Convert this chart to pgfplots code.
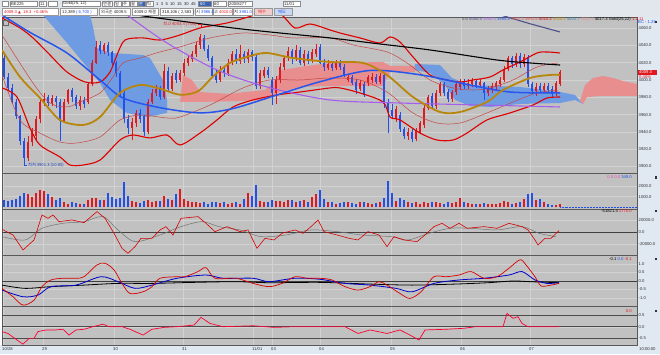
\documentclass[border=0pt]{standalone}
\usepackage{pgfplots}
\pgfplotsset{compat=1.18}
\usepackage{pgfplotstable}
\usepackage{fontspec}
\setmainfont{Liberation Sans}
\newfontfamily\kr{Noto Sans CJK KR}
\newfontfamily\djv{DejaVu Sans}
\definecolor{bgc}{RGB}{193,193,193}
\definecolor{gridc}{RGB}{210,210,210}
\definecolor{stripc}{RGB}{224,232,242}
\definecolor{toolc}{RGB}{226,231,238}
\definecolor{bbred}{RGB}{222,0,0}
\definecolor{thinred}{RGB}{196,70,70}
\definecolor{goldc}{RGB}{184,134,11}
\definecolor{mablue}{RGB}{40,85,235}
\definecolor{purp}{RGB}{165,95,235}
\definecolor{navyc}{RGB}{80,80,140}
\definecolor{cloudb}{RGB}{110,155,225}
\definecolor{cloudp}{RGB}{232,142,142}
\definecolor{upc}{RGB}{225,25,30}
\definecolor{dnc}{RGB}{35,80,235}
\definecolor{btnp}{RGB}{240,205,205}
\definecolor{btnb}{RGB}{200,215,242}
\definecolor{btnsel}{RGB}{60,100,180}
\newcommand\tf{\fontsize{4.2}{5}\selectfont}

\pgfplotstableread{
x o h l c vol
4 4025.4 4028.9 4001.2 4003.5 700
8 4003.5 4008 3988 3991 550
12 3991 3995 3972 3975 650
16 3975 3978 3955 3958 800
20 3958 3960 3925 3930 1100
24 3930 3933 3901.3 3910 1300
28 3910 3935 3906 3928 1200
32 3928 3945 3924 3940 950
36 3935 3958 3930 3955 1350
40 3955 3978 3950 3975 1600
44 3975 3985 3970 3978 1500
48 3980 3983 3970 3973 1200
52 3973 3983 3970 3979 1000
56 3979 3982 3968 3974 700
60 3975 3978 3930 3953 900
64 3953 3978 3950 3975 500
68 3975 3990 3972 3988 350
72 3988 3991 3975 3980 450
76 3980 3983 3966 3970 400
80 3970 3982 3965 3977 300
84 3977 3980 3968 3972 350
88 3975 3998 3972 3995 700
92 3995 4023 3993 4020 850
96 4020 4045 4018 4038 900
100 4040 4045 4030 4033 700
104 4033 4043 4030 4040 650
108 4040 4044 4028 4032 1300
112 4032 4034 4017 4020 1000
116 4020 4022 4004 4008 800
120 4008 4010 3982 3985 900
124 3985 3988 3950 3955 2350
128 3955 3960 3938 3945 1100
132 3945 3956 3931 3952 600
136 3950 3965 3946 3962 450
140 3962 3966 3950 3955 400
144 3958 3960 3935 3940 550
148 3940 3978 3937 3975 650
152 3975 3990 3972 3985 500
156 3985 3994 3982 3990 600
160 3990 3993 3977 3980 550
164 3980 4018 3978 4010 1100
168 4010 4015 3986 3990 800
172 3990 4008 3987 4005 700
176 4008 4012 3997 4000 1200
180 4000 4012 3998 4008 1700
184 4008 4024 4005 4020 800
188 4020 4028 4016 4025 600
192 4024 4034 4021 4030 500
196 4030 4044 4027 4040 450
200 4040 4053.3 4036 4050 400
204 4048 4052 4033 4036 500
208 4036 4040 4022 4025 350
212 4025 4028 4002 4005 450
216 4006 4012 3997 4000 500
220 4000 4016 3998 4012 400
224 4012 4016 4004 4008 450
228 4008 4024 4005 4020 350
232 4020 4034 4017 4030 400
236 4030 4036 4019 4022 450
240 4022 4040 4018 4030 350
244 4030 4033 4020 4024 800
248 4024 4036 4020 4032 1300
252 4032 4035 4022 4026 1100
256 4026 4030 3990 3993 2050
260 3993 4012 3990 4008 600
264 4005 4015 4002 4012 450
268 4012 4015 4002 4006 500
272 4000 4004 3971 3985 700
276 3985 4005 3972 4000 550
280 4000 4020 3997 4015 600
284 4015 4028 4012 4025 500
288 4025 4038 4022 4033 700
292 4033 4036 4018 4025 650
296 4025 4040 4022 4035 500
300 4035 4038 4017 4020 600
304 4020 4035 4016 4030 700
308 4030 4034 4018 4022 500
312 4022 4036 4020 4032 1000
316 4030 4042 4026 4036 1200
320 4038 4042 4018 4020 1600
324 4020 4024 4010 4015 800
328 4014 4023 4011 4019 500
332 4019 4022 4010 4014 450
336 4014 4023 4011 4020 350
340 4020 4023 4012 4015 400
344 4015 4018 4003 4006 450
348 4000 4007 3998 4003 500
352 4003 4006 3994 3997 400
356 3998 4001 3984 3988 350
360 3990 4000 3987 3997 450
364 3995 3998 3980 3983 500
368 3996 4006 3993 4003 400
372 4000 4008 3997 4004 350
376 4004 4007 3995 3998 400
380 3998 4008 3995 4005 500
384 4006 4008 3968 3972 900
388 3975 3978 3938.7 3965 2500
392 3965 3972 3955 3958 1300
396 3955 3970 3952 3966 600
400 3960 3963 3940 3943 900
404 3943 3946 3932 3935 650
408 3935 3944 3931 3940 500
412 3940 3943 3928 3932 400
416 3932 3945 3929 3942 450
420 3940 3953 3937 3950 350
424 3948 3972 3945 3968 500
428 3968 3983 3965 3980 400
432 3982 3985 3966 3970 450
436 3970 3988 3967 3985 500
440 3985 3998 3982 3995 400
444 3995 3998 3982 3985 350
448 3986 3990 3975 3978 450
452 3978 3989 3975 3986 400
456 3986 3998 3983 3995 500
460 3992 4001 3989 3998 850
464 3998 4001 3990 3993 450
468 3993 4001 3990 3997 400
472 3995 4002 3992 3999 350
476 3999 4001 3991 3994 300
480 3994 4001 3991 3998 350
484 3996 3998 3977 3985 400
488 3985 3993 3982 3990 300
492 3988 3996 3985 3993 350
496 3992 3999 3989 3996 300
500 3995 4003 3992 4000 400
504 4000 4016 3998 4013 550
508 4013 4028 4010 4025 500
512 4025 4028 4014 4018 350
516 4018 4031 4015 4028 400
520 4028 4031 4014 4018 450
524 4018 4030 4015 4027 800
528 4026 4029 3992 3995 1200
532 3995 3998 3984 3987 1350
536 3987 3996 3982 3992 700
540 3993 3996 3985 3988 800
544 3988 3996 3985 3993 500
548 3993 3996 3985 3988 300
552 3990 3993 3980 3984 200
556 3985 3999 3982 3996 250
560 3995 4012 3993 4009.3 300
}\candles

\pgfplotsset{
 panel/.style={
  scale only axis, width=635bp, xmin=2, xmax=637,
  axis background/.style={fill=bgc},
  axis line style={draw=black!65, line width=0.5bp},
  major tick length=0pt, tick style={draw=none},
  xtick={3,43,114,183,253,272,320,391,461,530},
  xticklabels={},
  grid=major, major grid style={draw=gridc, line width=0.4bp},
  yticklabel pos=right,
  yticklabel style={font=\tf, anchor=west, xshift=1.5bp, inner sep=0pt, text=black!80},
  scaled y ticks=false,
  /pgf/number format/fixed, /pgf/number format/fixed zerofill,
  /pgf/number format/precision=1, /pgf/number format/1000 sep={},
  /pgf/number format/assume math mode=true,
  colormap={ud}{rgb255=(35,80,235) rgb255=(225,25,30)},
  point meta min=0, point meta max=1,
 }
}

\begin{document}
\begin{tikzpicture}[x=1bp,y=1bp]
\useasboundingbox (0,0) rectangle (660,354);
\fill[white] (0,0) rectangle (660,354);
\fill[toolc] (0,337) rectangle (660,354);
\fill[stripc] (637,9) rectangle (660,337);
\fill[stripc] (0,0) rectangle (660,9);

% ---------------- main price panel
\begin{axis}[panel, at={(2bp,337bp)}, anchor=north west, height=156bp,
  ymin=3892.5, ymax=4072.8, ytick={3900,3920,...,4060}]
\addplot[fill=cloudb, draw=none] coordinates {(43,4075.1) (90,4075.1) (93,4061.3) (97,4037) (110,4031.2) (143,4028.9) (150,4025.4) (157,4011.6) (163,4000) (167,3976.9) (167,3961.9) (147,3957.2) (127,3961.9) (110,3976.9) (100,3996.5) (87,4015) (67,4042.8)} --cycle;
\addplot[fill=cloudp, draw=none] coordinates {(180,3974.6) (183,4005.8) (192,4000) (200,3986.1) (230,3983.8) (245,3986.1) (265,3988.4) (275,4000) (282,4011.6) (300,4015) (330,4019.7) (383,4020.8) (390,4016.2) (415,4016.2) (415,4009.2) (390,4009.2) (383,3993.1) (330,3993.1) (300,3991.9) (280,3986.1) (265,3976.9) (240,3975.7) (200,3974.6)} --cycle;
\addplot[fill=cloudb, draw=none] coordinates {(415,4018.5) (440,4017.3) (452,4002.3) (470,3994.2) (520,3991.9) (560,3986.1) (575,3982.7) (580,3975.7) (583,3972.3) (575,3976.9) (560,3973.4) (520,3972.3) (490,3968.8) (470,3970) (455,3976.9) (445,3994.2) (430,4008.1) (415,4011.6)} --cycle;
\addplot[fill=cloudp, draw=none] coordinates {(580,3975.7) (585,3994.2) (593,4002.3) (603,4004.6) (613,4002.3) (623,3998.8) (637,3995.4) (637,3981.5) (600,3981.5) (587,3980.3) (583,3972.3)} --cycle;
\addplot[quiver={u=0, v=\thisrow{h}-\thisrow{l}, colored, every arrow/.append style={line width=0.6bp}},
  point meta={\thisrow{c}>\thisrow{o}}] table[x=x, y=l] {\candles};
\addplot[quiver={u=0, v=\thisrow{c}-\thisrow{o}, colored, every arrow/.append style={line width=2.5bp}},
  point meta={\thisrow{c}>\thisrow{o}}] table[x=x, y=o] {\candles};
\addplot[thinred, line width=0.5bp, smooth] coordinates {(2,4052) (33,3996.5) (50,3973.4) (67,3968.8) (80,3974.6) (100,3985) (113,4003.5) (123,4019.7) (140,4025.4) (160,4032.4) (180,4038.2) (210,4048.6) (243,4054.3) (270,4052) (293,4048.6) (330,4048.6) (353,4040.5) (387,4032.4) (407,4019.7) (430,4000) (453,3990.8) (473,3988.4) (490,3990.8) (513,4000) (537,4015) (558,4019.7)};
\addplot[thinred, line width=0.5bp, smooth] coordinates {(2,4005.8) (20,3953.8) (40,3938.7) (60,3928.3) (77,3927.2) (100,3934.1) (120,3953.8) (140,3959.5) (167,3956.1) (180,3957.2) (210,3971.1) (243,3990.8) (270,4000) (300,4000) (330,4002.3) (360,4000) (387,3986.1) (413,3961.9) (437,3950.3) (460,3950.3) (487,3961.9) (513,3974.6) (537,3985) (558,3988.4)};
\addplot[bbred, line width=1.1bp, smooth] coordinates {(2,4071.7) (20,4060.1) (33,4048.6) (50,4028.9) (67,4009.2) (85,3997.7) (100,3997.7) (110,4009.2) (117,4028.9) (125,4046.2) (143,4048.6) (160,4046.2) (180,4052) (200,4060.1) (227,4065.9) (245,4071.7) (260,4076.3) (280,4076.3) (295,4060.1) (310,4064.7) (330,4057.8) (340,4054.3) (360,4048.6) (380,4042.8) (390,4049.7) (400,4043.9) (413,4026.6) (430,4005.8) (447,4000) (460,3997.7) (473,4000) (490,4003.5) (503,4011.6) (520,4020.8) (537,4031.2) (547,4032.4) (560,4031.2)};
\addplot[bbred, line width=1.1bp, smooth] coordinates {(2,3990.8) (17,3980.3) (30,3944.5) (40,3924.9) (60,3911) (70,3901.7) (83,3901.7) (100,3907.5) (120,3930.6) (133,3936.4) (150,3933) (167,3936.4) (180,3924.9) (200,3938.7) (217,3953.8) (233,3968.8) (253,3976.9) (277,3982.7) (300,3986.1) (330,3990.8) (340,3990.8) (360,3985) (383,3974.6) (390,3957.2) (400,3953.8) (420,3938.7) (437,3930.6) (453,3930.6) (467,3938.7) (487,3953.8) (510,3961.9) (533,3971.1) (547,3979.2) (560,3980.3)};
\addplot[black, line width=1.1bp, smooth] coordinates {(120,4079) (140,4074.5) (180,4068.2) (233,4060.1) (280,4054.3) (330,4048.6) (380,4041.6) (430,4034.7) (497,4023.1) (530,4019.7) (560,4017.3)};
\addplot[navyc, line width=1.1bp] coordinates {(498,4076) (530,4065) (560,4055.5)};
\addplot[purp, line width=1.1bp, smooth] coordinates {(118,4082) (127,4075.1) (167,4042.8) (217,4011.6) (267,3991.9) (330,3976.9) (400,3973.4) (480,3971.1) (560,3968.8)};
\addplot[mablue, line width=1.5bp, smooth] coordinates {(2,4075.1) (30,4055) (67,4031.2) (100,4000) (123,3979.2) (160,3968) (200,3962) (233,3967) (277,3982.7) (320,3998) (370,4011) (420,4006) (470,3994.2) (510,3986.1) (560,3985)};
\addplot[goldc, line width=1.8bp, smooth] coordinates {(2,4034.7) (20,4003.5) (40,3979.2) (60,3953.8) (83,3948) (100,3957.2) (120,3985) (140,3994.2) (160,3990) (180,3983) (198,3987) (213,4004) (230,4019.7) (250,4027.7) (267,4031.2) (293,4025.4) (330,4020.8) (363,4019.7) (387,4005.8) (413,3980.3) (440,3963) (460,3963) (487,3974.6) (503,3988.4) (530,4002.3) (550,4005.8) (560,4005.8)};
\end{axis}

% ---------------- volume
\begin{axis}[panel, at={(2bp,181bp)}, anchor=north west, height=36bp,
  ymin=-159, ymax=3206, ytick={1000,2000}]
\addplot[quiver={u=0, v=\thisrow{vol}, colored, every arrow/.append style={line width=2.4bp}},
  point meta={\thisrow{c}>\thisrow{o}}] table[x=x, y expr=0] {\candles};
\addplot[dnc, densely dotted, line width=0.5bp] coordinates {(560,0) (637,0)};
\end{axis}

% ---------------- oscillator 1
\begin{axis}[panel, at={(2bp,145bp)}, anchor=north west, height=46bp,
  ymin=-38151, ymax=39160, ytick={-20000,0,20000}]
\addplot[black!75, line width=0.6bp] coordinates {(2,0) (637,0)};
\addplot[black!55, line width=0.5bp, smooth] coordinates {(2,-7280) (25,-12880) (42,6720) (63,15120) (84,17920) (103,26320) (118,3920) (135,-15680) (160,-4480) (181,9520) (202,17920) (219,9520) (240,3920) (261,-7280) (286,-4480) (311,3920) (337,1120) (362,-4480) (391,-7280) (408,-12880) (429,-1680) (450,6720) (471,6720) (497,3920) (522,9520) (539,-1680) (556,-7280)};
\addplot[red!85!black, line width=0.6bp] coordinates {(2,5040) (13,-4480) (23,-29680) (34,-12880) (42,29120) (48,23520) (53,29120) (59,17920) (72,20720) (84,16240) (97,34720) (105,23520) (114,-1680) (122,-26880) (128,-35280) (135,-24080) (141,-10080) (152,-10080) (160,3920) (166,9520) (173,-4480) (181,23520) (198,26320) (206,15120) (215,1120) (227,9520) (240,1120) (248,3920) (257,-26880) (265,-10080) (274,-12880) (282,-1680) (295,3920) (303,-1680) (311,9520) (318,20720) (324,1120) (337,-4480) (349,-10080) (358,-12880) (368,1120) (379,-4480) (387,-24080) (394,-7280) (404,-12880) (417,-15680) (425,-4480) (434,9520) (442,15120) (450,6720) (459,15120) (467,6720) (484,9520) (497,6720) (509,15120) (522,9520) (528,3920) (535,-12880) (538,-21280) (545,-10080) (551,-10080) (559,2770)};
\end{axis}

% ---------------- oscillator 2
\begin{axis}[panel, at={(2bp,99bp)}, anchor=north west, height=51.7bp,
  ymin=-1.503, ymax=1.52, ytick={-1,-0.5,0,0.5,1}]
\addplot[black!75, line width=0.6bp] coordinates {(2,0) (637,0)};
\addplot[black, line width=0.8bp, smooth] coordinates {(2,-0.24) (25,-0.43) (51,-0.33) (84,-0.24) (118,-0.14) (152,-0.14) (194,-0.08) (236,-0.04) (269,-0.10) (320,-0.08) (370,-0.18) (412,-0.24) (455,-0.18) (488,-0.10) (513,0.0) (530,-0.04) (559,-0.10)};
\addplot[blue!80!black, line width=0.8bp, smooth] coordinates {(2,-0.53) (23,-0.92) (38,-0.82) (51,-0.33) (76,-0.24) (101,0.25) (118,-0.04) (135,-0.43) (152,-0.24) (177,0.16) (206,0.35) (223,0.16) (253,0.16) (269,-0.04) (295,0.16) (320,0.10) (345,-0.14) (370,-0.24) (396,-0.43) (412,-0.63) (434,-0.14) (459,0.06) (484,0.16) (509,0.35) (522,0.55) (535,0.06) (547,-0.14) (559,-0.10)};
\addplot[red!85!black, line width=0.7bp, smooth] coordinates {(2,-0.43) (13,-0.92) (23,-1.41) (34,-1.12) (42,-0.33) (51,0.06) (63,0.16) (76,0.16) (84,0.25) (97,0.94) (105,1.04) (114,0.65) (122,-0.14) (130,-0.73) (143,-0.63) (152,-0.33) (160,0.16) (177,0.25) (185,0.25) (198,0.55) (206,0.78) (215,0.16) (236,0.16) (253,-0.14) (269,-0.33) (282,-0.14) (295,0.25) (307,0.16) (320,0.16) (332,0.06) (345,-0.33) (358,-0.53) (370,-0.33) (379,-0.04) (387,-0.24) (400,-0.73) (410,-1.02) (421,-0.63) (434,0.25) (446,0.25) (459,0.35) (471,0.55) (484,0.16) (497,0.25) (509,0.75) (520,1.24) (526,0.94) (535,0.25) (541,-0.29) (551,-0.24) (559,-0.14)};
\end{axis}

% ---------------- oscillator 3
\begin{axis}[panel, at={(2bp,47.3bp)}, anchor=north west, height=38.3bp,
  ymin=-0.785, ymax=0.858, ytick={-0.5,0,0.5},
  xticklabels={10/28,29,30,31,11/01,03,04,05,06,07},
  xticklabel style={font=\tf, anchor=north west, inner sep=0pt, yshift=-2.3bp, xshift=-1bp, text=black!80}]
\addplot[black!70, line width=0.7bp] coordinates {(2,0.5) (637,0.5)};
\addplot[black!70, line width=0.7bp] coordinates {(2,0) (637,0)};
\addplot[black!70, line width=0.7bp] coordinates {(2,-0.5) (637,-0.5)};
\addplot[red!80!magenta, line width=0.7bp] coordinates {(2,-0.21) (8,-0.29) (17,-0.57) (23,-0.75) (29,-0.5) (34,-0.5) (38,-0.21) (46,-0.14) (55,-0.14) (63,-0.11) (69,-0.36) (76,-0.14) (84,-0.11) (93,0) (103,0.11) (109,0) (122,0) (130,-0.11) (143,-0.36) (152,-0.11) (164,-0.03) (177,0) (194,0.07) (201,0.4) (210,0.14) (223,0) (253,0.04) (274,-0.03) (295,0) (320,0) (345,0) (358,-0.29) (370,-0.14) (387,-0.29) (400,-0.14) (410,-0.36) (419,-0.57) (425,-0.14) (446,-0.11) (463,-0.07) (476,0) (503,0) (507,0.57) (513,0.36) (518,0.43) (522,0.14) (528,0) (559,0)};
\end{axis}

% ---------------- toolbar
\foreach \a/\b in {2/8, 10/37, 39/46, 48/57, 62/100, 102/112, 114/121, 122/129, 130/137, 146/153, 213/226, 228/252, 283/300}
  {\draw[black!45, fill=white, line width=0.3bp] (\a,347.5) rectangle (\b,353);}
\foreach \a/\b in {138/145, 198/211}
  {\draw[black!45, fill=btnsel, line width=0.3bp] (\a,347.5) rectangle (\b,353);}
\begin{scope}[every node/.style={font=\tf, inner sep=0pt, anchor=west, text=black!85}]
\node at (11,350.3) {BE225};
\node at (40,350.3) {11};
\node at (63,350.3) {Gold(25, 12)};
\node at (103,350.3) {\kr 연결};
\node at (115,350.3) {\kr 일};
\node at (123,350.3) {\kr 주};
\node at (131,350.3) {\kr 월};
\node[text=white] at (139,350.3) {\kr 분};
\node at (147,350.3) {\kr 틱};
\node at (156,350.3) {1\ \ 3\ \ 5\ \ 10\ \ 15\ \ 30\ \ 45};
\node[text=white] at (200,350.3) {60};
\node at (214,350.3) {60};
\node at (229,350.3) {200/8277};
\node at (284,350.3) {11/01};
\end{scope}
\foreach \a/\b in {2/58, 60/97, 99/130, 132/158, 160/193, 195/212, 213/232, 233/252}
  {\draw[black!40, fill=white, line width=0.3bp] (\a,338.5) rectangle (\b,345.5);}
\draw[black!40, fill=btnp, line width=0.3bp] (254,338.5) rectangle (272,345.5);
\draw[black!40, fill=btnb, line width=0.3bp] (274,338.5) rectangle (292,345.5);
\begin{scope}[every node/.style={font=\tf, inner sep=0pt, anchor=west, text=black!85}]
\node at (4,342) {\textcolor{upc}{4009.3 {\djv\fontsize{3.6}{4}\selectfont ▲}\ \ 18.3\ \ +0.46\%}};
\node at (62,342) {12,389 \textcolor{dnc}{( 6,700 )}};
\node at (101,342) {{\kr 외국순} 4009.5};
\node at (134,342) {4009.0 {\kr 체결}};
\node at (162,342) {318,106 ( 2,583 )};
\node at (196,342) {{\kr 시} \textcolor{dnc}{3986.8}};
\node at (214,342) {{\kr 고} \textcolor{upc}{4010.0}};
\node at (234,342) {{\kr 저} \textcolor{dnc}{3981.0}};
\node[text=upc] at (258,342) {\kr 매수};
\node[text=dnc] at (278,342) {\kr 매도};
\end{scope}

% ---------------- labels in panels
\draw[black!60, line width=0.4bp] (3,328.5) rectangle (8,333.5);
\begin{scope}[every node/.style={font=\tf, inner sep=0pt}]
\node[anchor=west] at (462,334.5) {\textcolor{black!70}{0.0} \textcolor{navyc}{4054.5} \textcolor{purp}{3993.5} \textcolor{mablue}{3984.6} \textcolor{bbred!60}{3992.3} \textcolor{bbred!70}{3992.5} \textcolor{bbred}{4010.3} \textcolor{goldc}{4005.1} \textcolor{cyan!60!black}{4003.7} \textcolor{thinred!60}{4003.1} \textcolor{black}{4017.3} Gold(25,12) \textcolor{upc}{1.2.11}};
\node[anchor=west] at (638,331.5) {\textcolor{dnc}{BC - 1.26}};
\node[anchor=west] at (28,189) {\textcolor{dnc!80!black}{\kr 최저 3901.3 (10:00)}};
\node[anchor=east] at (197,330) {\textcolor{upc}{\kr 최고 4053.3 (7:00)}};
\fill[upc] (637.5,279) rectangle (657,284.5);
\node[anchor=west, text=white] at (639,281.8) {4009.3};
\node[anchor=west, text=upc] at (639,277) {0.46\%};
\node[anchor=east] at (632,176.5) {\textcolor{magenta!70}{0.0 0.0} \textcolor{dnc}{349.0}};
\node[anchor=east] at (632,143) {-51821.4 \textcolor{upc}{2770.0}};
\node[anchor=east] at (632,95) {-0.1 \textcolor{dnc}{0.0} \textcolor{upc}{-0.1}};
\node[anchor=east] at (632,43) {\textcolor{upc}{0.0}};
\node[anchor=west, text=black!80] at (639,4.7) {10:00:00};
\end{scope}
\draw[dnc, line width=0.4bp] (24,192) -- (24,189) -- (27,189);
\draw[upc, line width=0.4bp] (198,330) -- (201,330) -- (201,327);
\foreach \yy in {332,176.5,143,95,43} {\fill[black!80] (654.5,\yy-1.2) rectangle (657,\yy+1.2);}
\end{tikzpicture}
\end{document}
